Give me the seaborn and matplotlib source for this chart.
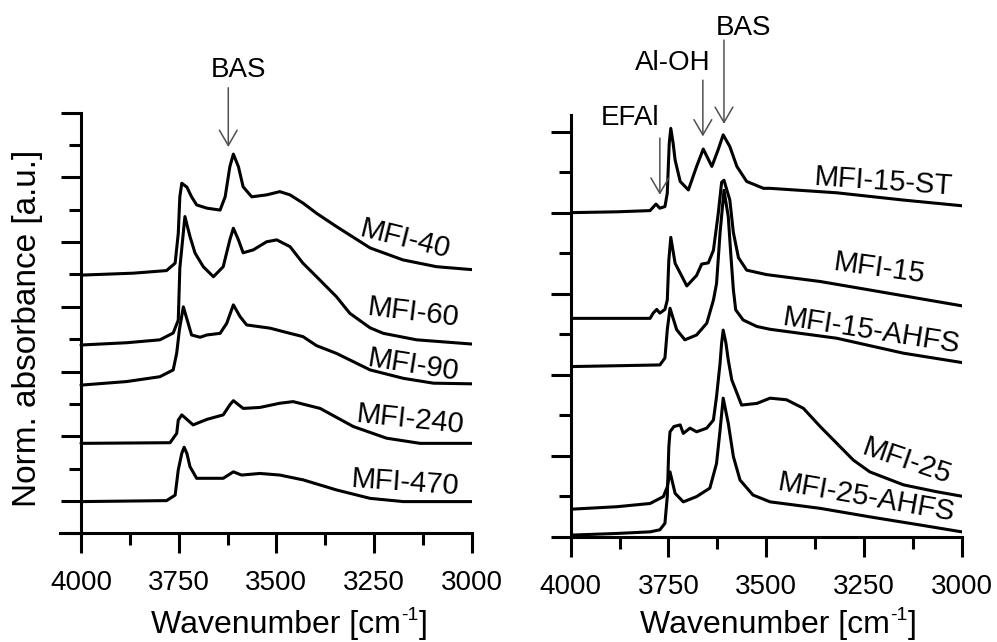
import matplotlib
matplotlib.use("Agg")
import matplotlib.pyplot as plt
import seaborn as sns
import pandas as pd
from matplotlib.ticker import FixedLocator

# ---------------- data ----------------
# Left panel
wn_mfi40 = [4000, 3866, 3781, 3759, 3751, 3747, 3742, 3729, 3717, 3704, 3678, 3644, 3631, 3619, 3610, 3597,
            3585, 3563, 3525, 3491, 3465, 3431, 3397, 3346, 3260, 3176, 3090, 3000]
ab_mfi40 = [7.98, 8.04, 8.12, 8.35, 9.27, 10.40, 10.82, 10.70, 10.40, 10.15, 10.05, 9.99, 10.40, 11.33, 11.72,
            11.33, 10.71, 10.40, 10.46, 10.56, 10.46, 10.20, 9.89, 9.48, 8.82, 8.45, 8.24, 8.15]

wn_mfi60 = [4000, 3883, 3798, 3764, 3751, 3747, 3734, 3721, 3708, 3687, 3661, 3636, 3619, 3610, 3597, 3585,
            3559, 3525, 3499, 3465, 3432, 3397, 3346, 3312, 3260, 3226, 3141, 3000]
ab_mfi60 = [5.82, 5.89, 5.98, 6.19, 6.59, 8.20, 9.79, 9.17, 8.66, 8.24, 7.93, 8.24, 9.07, 9.43, 9.07, 8.67,
            8.76, 9.01, 9.07, 8.86, 8.35, 7.93, 7.31, 6.80, 6.35, 6.18, 5.98, 5.85]

wn_mfi90 = [4000, 3883, 3798, 3764, 3755, 3748, 3738, 3717, 3695, 3678, 3644, 3627, 3610, 3593, 3576, 3516,
            3465, 3432, 3397, 3346, 3260, 3175, 3098, 3000]
ab_mfi90 = [4.58, 4.69, 4.84, 5.05, 5.57, 6.30, 7.00, 6.13, 6.06, 6.13, 6.18, 6.49, 7.06, 6.70, 6.44, 6.34,
            6.18, 6.08, 5.80, 5.56, 5.05, 4.79, 4.64, 4.62]

wn_mfi240 = [4000, 3772, 3755, 3751, 3742, 3713, 3678, 3636, 3619, 3610, 3585, 3542, 3491, 3457, 3388, 3303,
             3218, 3132, 3000]
ab_mfi240 = [2.78, 2.80, 3.09, 3.50, 3.66, 3.35, 3.52, 3.66, 3.97, 4.10, 3.86, 3.89, 4.02, 4.07, 3.86, 3.30,
             2.94, 2.78, 2.78]

wn_mfi470 = [4000, 3781, 3759, 3751, 3742, 3736, 3729, 3721, 3704, 3636, 3610, 3589, 3542, 3491, 3431, 3346,
             3260, 3175, 3000]
ab_mfi470 = [0.98, 1.01, 1.18, 1.96, 2.47, 2.66, 2.47, 2.06, 1.70, 1.70, 1.90, 1.80, 1.85, 1.80, 1.65, 1.34,
             1.08, 0.98, 0.98]

# Right panel
wn_mfi15st = [3997, 3882, 3797, 3782, 3772, 3759, 3753, 3748, 3744, 3738, 3733, 3720, 3699, 3678, 3661, 3639,
              3623, 3610, 3593, 3575, 3550, 3507, 3490, 3320, 3149, 3000]
ab_mfi15st = [8.00, 8.02, 8.05, 8.21, 8.11, 8.15, 8.48, 9.71, 10.08, 9.71, 9.30, 8.77, 8.56, 9.14, 9.57, 9.14,
              9.55, 9.92, 9.63, 9.14, 8.77, 8.60, 8.60, 8.49, 8.31, 8.17]

wn_mfi15 = [3997, 3797, 3789, 3780, 3772, 3759, 3753, 3749, 3744, 3733, 3703, 3678, 3665, 3648, 3635, 3623,
            3614, 3608, 3593, 3584, 3571, 3550, 3499, 3362, 3235, 3000]
ab_mfi15 = [5.39, 5.39, 5.52, 5.61, 5.52, 5.61, 5.84, 6.83, 7.39, 6.75, 6.19, 6.45, 6.73, 6.76, 7.07, 7.95,
            8.75, 8.80, 8.31, 7.51, 6.89, 6.58, 6.47, 6.30, 6.09, 5.70]

wn_mfi15ahfs = [3997, 3772, 3759, 3753, 3746, 3729, 3708, 3678, 3652, 3635, 3627, 3618, 3608, 3597, 3590, 3584,
                3578, 3559, 3524, 3490, 3320, 3149, 3000]
ab_mfi15ahfs = [4.20, 4.24, 4.41, 5.11, 5.64, 5.11, 4.86, 4.98, 5.27, 5.84, 6.25, 7.50, 8.55, 7.90, 6.90, 6.10,
                5.60, 5.35, 5.19, 5.12, 4.90, 4.53, 4.30]

wn_mfi25 = [3997, 3882, 3797, 3772, 3759, 3753, 3749, 3746, 3736, 3720, 3712, 3695, 3678, 3652, 3635, 3627,
            3618, 3614, 3610, 3603, 3597, 3588, 3563, 3524, 3490, 3448, 3405, 3362, 3320, 3277, 3235, 3149,
            3064, 3000]
ab_mfi25 = [0.04, 0.08, 0.12, 0.17, 0.33, 0.99, 2.22, 2.59, 2.72, 2.76, 2.55, 2.68, 2.59, 2.68, 2.88, 3.46,
            4.28, 4.78, 5.10, 4.78, 4.36, 3.87, 3.25, 3.29, 3.42, 3.38, 3.17, 2.72, 2.31, 1.89, 1.60, 1.28,
            1.11, 1.00]

wn_mfi25ahfs = [3997, 3882, 3797, 3763, 3753, 3746, 3733, 3712, 3678, 3644, 3627, 3618, 3610, 3597, 3584, 3567,
                3534, 3490, 3362, 3235, 3107, 3000]
ab_mfi25ahfs = [0.68, 0.74, 0.82, 0.99, 1.23, 1.60, 1.07, 0.86, 0.99, 1.20, 1.81, 2.63, 3.42, 2.80, 1.98, 1.40,
                1.03, 0.86, 0.70, 0.49, 0.29, 0.12]

left_names = ["MFI-40", "MFI-60", "MFI-90", "MFI-240", "MFI-470"]
right_names = ["MFI-15-ST", "MFI-15", "MFI-15-AHFS", "MFI-25", "MFI-25-AHFS"]
x_ticks = [4000, 3750, 3500, 3250, 3000]
x_minor = [3875, 3625, 3375, 3125]

left_series = [(wn_mfi40, ab_mfi40), (wn_mfi60, ab_mfi60), (wn_mfi90, ab_mfi90),
               (wn_mfi240, ab_mfi240), (wn_mfi470, ab_mfi470)]
right_series = [(wn_mfi15st, ab_mfi15st), (wn_mfi15, ab_mfi15), (wn_mfi15ahfs, ab_mfi15ahfs),
                (wn_mfi25, ab_mfi25), (wn_mfi25ahfs, ab_mfi25ahfs)]


def to_df(names, series):
    frames = []
    for n, (w, a) in zip(names, series):
        frames.append(pd.DataFrame({"wn": w, "ab": a, "sample": n}))
    return pd.concat(frames, ignore_index=True)


df_left = to_df(left_names, left_series)
df_right = to_df(right_names, right_series)

# ---------------- style ----------------
sns.set_theme(style="ticks")
plt.rcParams["font.family"] = ["Liberation Sans", "DejaVu Sans"]

W, H = 997, 642
fig = plt.figure(figsize=(W / 100, H / 100), dpi=100)
fig.patch.set_facecolor("white")

ax_l = fig.add_axes([60 / W, (H - 533.3) / H, 411.7 / W, 420.6 / H])
ax_r = fig.add_axes([570.7 / W, (H - 536.7) / H, 391.0 / W, 421.7 / H])

SPW = 2.2
for ax, df, names in [(ax_l, df_left, left_names), (ax_r, df_right, right_names)]:
    ax.set_facecolor("none")
    sns.lineplot(data=df, x="wn", y="ab", hue="sample", hue_order=names,
                 palette={n: "black" for n in names}, sort=False, estimator=None,
                 linewidth=2.2, legend=False, ax=ax)
    for l in ax.get_lines():
        l.set_solid_joinstyle("round")
    for s in ["top", "right"]:
        ax.spines[s].set_visible(False)
    for s in ["left", "bottom"]:
        ax.spines[s].set_linewidth(SPW)
        ax.spines[s].set_color("black")
    ax.set_xticks(x_ticks)
    ax.set_xticklabels([str(t) for t in x_ticks])
    ax.xaxis.set_minor_locator(FixedLocator(x_minor))
    ax.tick_params(axis="both", which="both", bottom=True, left=True, top=False, right=False)
    ax.tick_params(axis="both", which="major", direction="out", length=14.5, width=SPW,
                   color="black", labelsize=20, labelcolor="black", pad=12)
    ax.tick_params(axis="both", which="minor", direction="out", length=8.5, width=SPW, color="black")
    ax.tick_params(axis="y", labelleft=False)
    ax.set_xlabel("")
    ax.set_ylabel("")
    ax.grid(False)

ax_l.set_xlim(4053.7, 3000)
ax_l.set_ylim(0, 13)
ax_l.spines["left"].set_position(("data", 4000))
ax_l.set_yticks([1, 3, 5, 7, 9, 11, 13])
ax_l.yaxis.set_minor_locator(FixedLocator([0, 2, 4, 6, 8, 10, 12]))

ax_r.set_xlim(4000, 3000)
ax_r.set_ylim(0, 10.41)
ax_r.set_yticks([0, 2, 4, 6, 8, 10])
ax_r.yaxis.set_minor_locator(FixedLocator([1, 3, 5, 7, 9]))

# curve labels
left_lab = [(3171, 9.10, -14), (3150, 6.81, -7), (3149, 5.18, -9), (3158, 3.50, -6), (3171, 1.55, -4)]
right_lab = [(3200, 8.75, -4), (3211, 6.61, -8), (3232, 5.08, -9), (3141, 1.85, -19), (3244, 0.96, -10)]
for ax, names, labs in [(ax_l, left_names, left_lab), (ax_r, right_names, right_lab)]:
    for n, (x, y, r) in zip(names, labs):
        ax.text(x, y, n, fontsize=21, rotation=r, rotation_mode="anchor",
                ha="center", va="center", color="black")

# peak markers
arrow_kw = dict(arrowstyle="->,head_length=0.55,head_width=0.32", color="#505050", lw=1.1,
                shrinkA=0, shrinkB=0, mutation_scale=20)


def mark(ax, text, tx, ty, ax_x, y_top, y_tip):
    ax.annotate("", xy=(ax_x, y_tip), xytext=(ax_x, y_top), arrowprops=arrow_kw,
                annotation_clip=False)
    ax.text(tx, ty, text, fontsize=20, ha="center", va="center", color="black", clip_on=False)


mark(ax_l, "BAS", 3598, 14.32, 3623, 13.77, 11.94)
mark(ax_r, "BAS", 3559, 12.56, 3608, 12.26, 10.19)
mark(ax_r, "Al-OH", 3738, 11.70, 3662, 11.27, 9.88)
mark(ax_r, "EFAl", 3848, 10.33, 3772, 9.84, 8.44)

# axis titles
fig.text(28 / W, 1 - 328 / H, "Norm. absorbance [a.u.]", rotation=90, fontsize=24,
         ha="center", va="center", color="black")

renderer = fig.canvas.get_renderer()


def wavenumber_label(cx, base_y):
    """Compose 'Wavenumber [cm-1]' with a plain hyphen superscript, centred at cx (pixels)."""
    parts = [("Wavenumber [cm", 23, 0), ("-1", 14, 13), ("]", 23, 0)]
    widths = []
    for s, fs, _ in parts:
        t = fig.text(0, 0, s, fontsize=fs)
        widths.append(t.get_window_extent(renderer).width)
        t.remove()
    total = sum(widths) + 1
    x = cx - total / 2
    for (s, fs, dy), w in zip(parts, widths):
        fig.text(x / W, (H - base_y + dy) / H, s, fontsize=fs, ha="left", va="baseline", color="black")
        x += w + (0.5 if s == "-1" else 0)


wavenumber_label(290, 633)
wavenumber_label(779, 633)

fig.savefig("out.png", dpi=100, facecolor="white")
